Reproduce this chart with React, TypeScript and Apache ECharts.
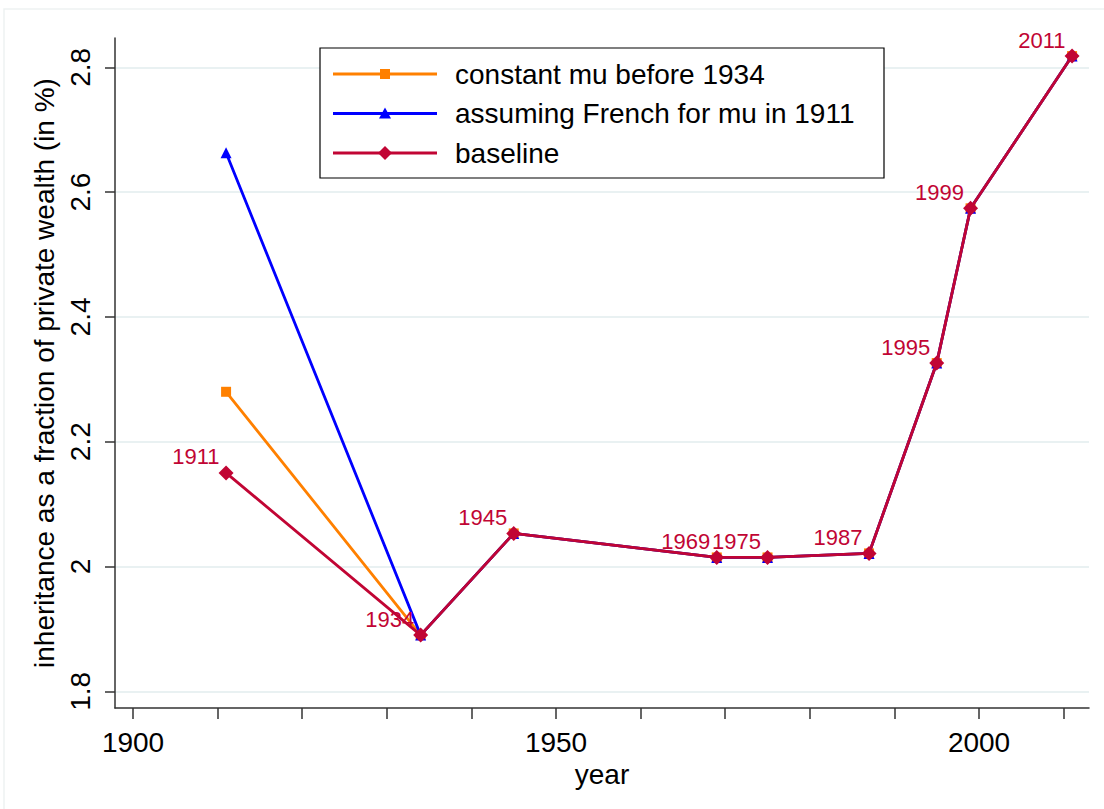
import React, { useEffect, useRef } from "react";
import * as echarts from "echarts";

const years = [1911, 1934, 1945, 1969, 1975, 1987, 1995, 1999, 2011];
const baseline = [2.15, 1.89, 2.053, 2.0145, 2.0145, 2.021, 2.326, 2.574, 2.818];
const constantMu = [2.28, 1.89, 2.053, 2.0145, 2.0145, 2.021, 2.326, 2.574, 2.818];
const frenchMu = [2.663, 1.89, 2.053, 2.0145, 2.0145, 2.021, 2.326, 2.574, 2.818];
const seriesNames = [
  "constant mu before 1934",
  "assuming French for mu in 1911",
  "baseline",
];
const xTicks = [1900, 1910, 1920, 1930, 1940, 1950, 1960, 1970, 1980, 1990, 2000, 2010];
const xLabels = [1900, 1950, 2000];
const yTicks = [1.8, 2.0, 2.2, 2.4, 2.6, 2.8];

const FONT = "'Liberation Sans', Arial, sans-serif";
const RED = "#c10534";
const ORANGE = "#ff8000";
const BLUE = "#0000ff";
const colors = [ORANGE, BLUE, RED];

function legendGraphic() {
  const left = 320;
  const top = 48;
  const rows = [74, 113.5, 153];
  const lineX0 = 333;
  const lineX1 = 437;
  const mx = 385;
  const els: any[] = [
    {
      type: "rect",
      shape: { x: left, y: top, width: 564, height: 130 },
      style: { fill: "#fff", stroke: "#000", lineWidth: 1.2 },
      z: 100,
    },
  ];
  rows.forEach((y, i) => {
    const c = colors[i];
    els.push({
      type: "line",
      shape: { x1: lineX0, y1: y, x2: lineX1, y2: y },
      style: { stroke: c, lineWidth: 3 },
      z: 101,
    });
    if (i === 0) {
      els.push({
        type: "rect",
        shape: { x: mx - 5, y: y - 5, width: 10, height: 10 },
        style: { fill: c },
        z: 102,
      });
    } else if (i === 1) {
      els.push({
        type: "polygon",
        shape: { points: [[mx, y - 6], [mx + 6, y + 5], [mx - 6, y + 5]] },
        style: { fill: c },
        z: 102,
      });
    } else {
      els.push({
        type: "polygon",
        shape: { points: [[mx, y - 7], [mx + 7, y], [mx, y + 7], [mx - 7, y]] },
        style: { fill: c },
        z: 102,
      });
    }
    els.push({
      type: "text",
      x: 455,
      y: y,
      style: {
        text: seriesNames[i],
        fontFamily: FONT,
        fontSize: 28,
        fill: "#000",
        verticalAlign: "middle",
        align: "left",
      },
      z: 102,
    });
  });
  return els;
}

export default function App() {
  const ref = useRef<HTMLDivElement>(null);
  useEffect(() => {
    if (!ref.current) return;
    const chart = echarts.init(ref.current, undefined, { renderer: "svg" });
    const pair = (vals: number[]) => years.map((y, i) => [y, vals[i]]);
    chart.setOption({
      animation: false,
      backgroundColor: "#ffffff",
      textStyle: { fontFamily: FONT },
      graphic: [
        {
          type: "rect",
          shape: { x: 4, y: 9, width: 1200, height: 900 },
          style: { fill: "none", stroke: "#eef2f2", lineWidth: 1.5 },
          silent: true,
          z: -10,
        },
        ...legendGraphic(),
      ],
      grid: { left: 115, right: 15, top: 38, bottom: 101, containLabel: false },
      xAxis: {
        type: "value",
        min: 1897.87,
        max: 2013.0,
        name: "year",
        nameLocation: "middle",
        nameGap: 45,
        nameTextStyle: { fontFamily: FONT, fontSize: 28, color: "#000" },
        axisLine: { show: true, onZero: false, lineStyle: { color: "#333", width: 1.5 } },
        axisTick: {
          show: true,
          length: 11,
          inside: false,
          customValues: xTicks,
          lineStyle: { color: "#333", width: 1.5 },
        },
        axisLabel: {
          customValues: xLabels,
          formatter: (v: number) => String(v),
          fontFamily: FONT,
          fontSize: 28,
          color: "#000",
          margin: 20,
        },
        splitLine: { show: false },
      },
      yAxis: {
        type: "value",
        min: 1.7732,
        max: 2.847,
        name: "inheritance as a fraction of private wealth (in %)",
        nameLocation: "middle",
        nameGap: 52,
        nameTextStyle: { fontFamily: FONT, fontSize: 28, color: "#000" },
        axisLine: { show: true, lineStyle: { color: "#333", width: 1.5 } },
        axisTick: {
          show: true,
          length: 10,
          customValues: yTicks,
          lineStyle: { color: "#333", width: 1.5 },
        },
        axisLabel: {
          customValues: yTicks,
          formatter: (v: number) => String(Math.round(v * 10) / 10),
          rotate: 90,
          fontFamily: FONT,
          fontSize: 28,
          color: "#000",
          margin: 21,
        },
        splitLine: {
          show: true,
          lineStyle: { color: "#e9f1f2", width: 2 },
        },
      },
      series: [
        {
          name: seriesNames[0],
          type: "line",
          data: pair(constantMu),
          symbol: "rect",
          symbolSize: 10,
          lineStyle: { color: ORANGE, width: 2.8 },
          itemStyle: { color: ORANGE },
          z: 2,
        },
        {
          name: seriesNames[1],
          type: "line",
          data: pair(frenchMu),
          symbol: "triangle",
          symbolSize: 11,
          lineStyle: { color: BLUE, width: 2.8 },
          itemStyle: { color: BLUE },
          z: 3,
        },
        {
          name: seriesNames[2],
          type: "line",
          data: pair(baseline),
          symbol: "diamond",
          symbolSize: 15,
          lineStyle: { color: RED, width: 2.8 },
          itemStyle: { color: RED },
          z: 4,
          label: {
            show: true,
            position: "left",
            distance: 0,
            offset: [1, -16],
            formatter: (p: any) => String(p.value[0]),
            fontFamily: FONT,
            fontSize: 22,
            color: RED,
          },
        },
      ],
    });
    return () => chart.dispose();
  }, []);
  return (
    <div
      ref={ref}
      style={{ position: "absolute", left: 0, top: 0, width: 1104, height: 809, background: "#fff" }}
    />
  );
}
